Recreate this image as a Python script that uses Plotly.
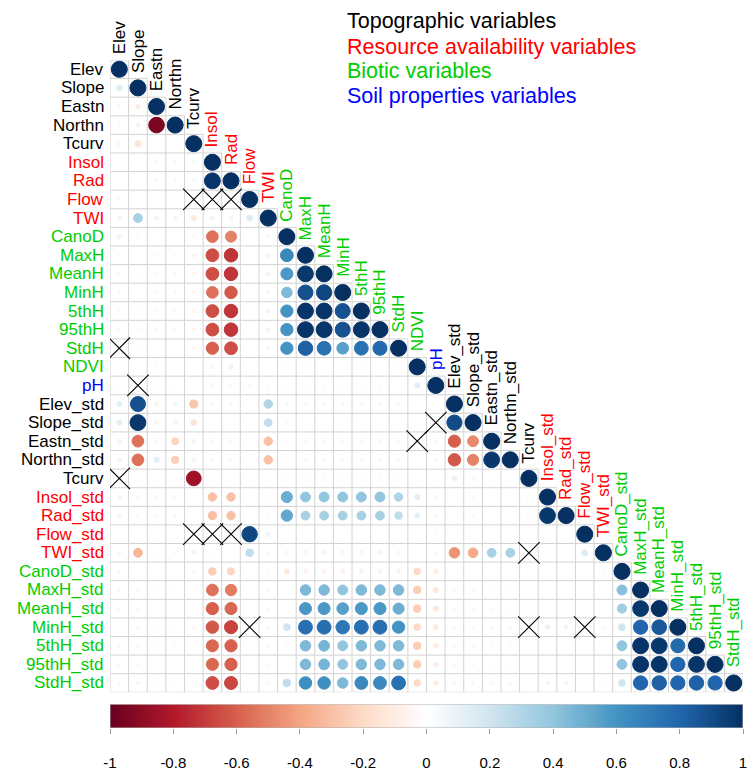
import numpy as np
import plotly.graph_objects as go

# ---- variables (rows / columns of the lower-triangular matrix) ----
variables = ["Elev", "Slope", "Eastn", "Northn", "Tcurv",
             "Insol", "Rad", "Flow", "TWI",
             "CanoD", "MaxH", "MeanH", "MinH", "5thH", "95thH", "StdH", "NDVI",
             "pH",
             "Elev_std", "Slope_std", "Eastn_std", "Northn_std", "Tcurv",
             "Insol_std", "Rad_std", "Flow_std", "TWI_std",
             "CanoD_std", "MaxH_std", "MeanH_std", "MinH_std", "5thH_std", "95thH_std", "StdH_std"]
groups = (["topo"] * 5 + ["res"] * 4 + ["bio"] * 8 + ["soil"]
          + ["topo"] * 5 + ["res"] * 4 + ["bio"] * 7)
group_colors = {"topo": "#000000", "res": "#FF0000", "bio": "#00CD00", "soil": "#0000FF"}

legend_labels = ["Topographic variables", "Resource availability variables",
                 "Biotic variables", "Soil properties variables"]
legend_groups = ["topo", "res", "bio", "soil"]

# ---- lower-triangle correlation coefficients, one list per row ----
r01 = [1.00]
r02 = [0.15, 1.00]
r03 = [-0.05, -0.10, 1.00]
r04 = [0.04, 0.08, -0.95, 1.00]
r05 = [-0.06, -0.15, -0.02, -0.02, 1.00]
r06 = [0.01, -0.02, 0.05, -0.05, 0.05, 1.00]
r07 = [0.01, -0.01, 0.05, -0.05, 0.05, 0.98, 1.00]
r08 = [-0.05, 0.02, -0.02, 0.01, 0.02, 0.02, 0.02, 1.00]
r09 = [0.07, 0.33, -0.07, 0.07, -0.12, -0.07, -0.07, 0.15, 1.00]
r10 = [0.08, 0.03, -0.01, 0.01, -0.04, -0.55, -0.50, 0.00, 0.05, 1.00]
r11 = [0.04, 0.03, -0.04, 0.04, -0.06, -0.65, -0.72, 0.00, 0.07, 0.65, 1.00]
r12 = [0.04, 0.03, -0.04, 0.04, -0.06, -0.65, -0.72, 0.00, 0.07, 0.58, 0.97, 1.00]
r13 = [0.04, 0.02, -0.04, 0.04, -0.05, -0.55, -0.62, 0.00, 0.06, 0.45, 0.88, 0.92, 1.00]
r14 = [0.04, 0.03, -0.04, 0.04, -0.06, -0.65, -0.72, 0.00, 0.07, 0.60, 0.98, 0.98, 0.88, 1.00]
r15 = [0.04, 0.03, -0.04, 0.04, -0.06, -0.65, -0.72, 0.00, 0.07, 0.60, 0.98, 0.98, 0.88, 0.98, 1.00]
r16 = [0.01, 0.03, -0.01, 0.02, -0.04, -0.60, -0.65, 0.00, 0.06, 0.60, 0.82, 0.75, 0.55, 0.75,
       0.78, 1.00]
r17 = [0.03, 0.01, 0.03, -0.03, 0.01, 0.06, 0.08, 0.01, 0.01, 0.03, -0.03, -0.03, -0.03, -0.03,
       -0.03, -0.03, 1.00]
r18 = [0.03, 0.00, 0.01, -0.03, -0.02, 0.04, 0.04, 0.03, -0.03, -0.03, -0.03, -0.03, -0.03, -0.03,
       -0.03, -0.02, 0.12, 1.00]
r19 = [0.12, 0.88, -0.07, 0.07, -0.28, -0.05, -0.05, 0.01, 0.30, 0.05, 0.05, 0.05, 0.05, 0.05,
       0.05, 0.05, 0.01, -0.02, 1.00]
r20 = [0.12, 0.97, -0.07, 0.07, -0.15, 0.01, 0.01, 0.01, 0.25, 0.03, 0.02, 0.02, 0.02, 0.02,
       0.02, 0.02, 0.01, 0.00, 0.90, 1.00]
r21 = [-0.08, -0.55, 0.05, -0.22, 0.07, 0.04, 0.04, 0.01, -0.30, 0.03, -0.04, -0.04, -0.05, -0.05,
       -0.05, -0.05, 0.00, 0.04, -0.60, -0.48, 1.00]
r22 = [-0.08, -0.55, 0.12, -0.24, 0.07, 0.04, 0.04, 0.01, -0.30, -0.03, -0.05, -0.05, -0.05, -0.05,
       -0.05, -0.05, 0.01, 0.04, -0.62, -0.50, 0.97, 1.00]
r23 = [0.00, 0.02, 0.01, 0.01, -0.85, 0.02, 0.02, 0.01, -0.02, -0.03, -0.03, -0.03, -0.03, -0.03,
       -0.03, -0.03, 0.01, 0.01, 0.10, 0.04, 0.01, 0.01, 1.00]
r24 = [0.07, -0.04, 0.04, -0.05, -0.02, -0.30, -0.30, -0.01, -0.03, 0.50, 0.40, 0.40, 0.40, 0.40,
       0.40, 0.30, 0.12, 0.05, 0.01, -0.04, 0.01, 0.01, -0.03, 1.00]
r25 = [0.07, -0.04, 0.04, -0.05, -0.02, -0.30, -0.30, -0.01, -0.03, 0.52, 0.33, 0.33, 0.33, 0.33,
       0.33, 0.25, 0.12, 0.05, 0.01, -0.04, 0.01, 0.01, -0.03, 0.97, 1.00]
r26 = [-0.03, 0.01, 0.01, 0.01, 0.00, 0.00, 0.00, 0.92, 0.07, 0.01, 0.01, 0.01, 0.01, 0.01,
       0.01, 0.01, 0.01, 0.03, 0.01, 0.01, 0.01, 0.01, 0.01, -0.02, -0.02, 1.00]
r27 = [-0.06, -0.33, 0.03, -0.04, 0.07, 0.03, 0.03, 0.25, -0.05, -0.06, -0.07, -0.07, -0.07, -0.07,
       -0.07, -0.06, 0.01, 0.04, -0.45, -0.38, 0.33, 0.33, 0.00, -0.02, -0.02, 0.15, 1.00]
r28 = [-0.05, 0.01, 0.01, 0.01, 0.04, -0.25, -0.22, -0.01, -0.03, -0.12, -0.08, -0.08, -0.08, -0.08,
       -0.08, -0.08, -0.20, -0.10, -0.02, 0.01, 0.02, 0.02, 0.02, 0.01, 0.02, 0.01, 0.03, 1.00]
r29 = [-0.05, 0.04, -0.03, 0.03, -0.03, -0.55, -0.52, 0.00, 0.05, 0.02, 0.45, 0.45, 0.40, 0.45,
       0.45, 0.45, -0.25, -0.12, 0.04, 0.04, -0.03, -0.03, 0.01, 0.01, -0.02, 0.01, -0.02, 0.42, 1.00]
r30 = [-0.05, 0.04, -0.03, 0.03, -0.03, -0.60, -0.58, 0.00, 0.05, 0.03, 0.58, 0.58, 0.55, 0.58,
       0.58, 0.50, -0.25, -0.12, 0.04, 0.04, -0.04, -0.04, 0.01, 0.01, -0.02, 0.01, -0.02, 0.35,
       0.97, 1.00]
r31 = [-0.03, 0.04, -0.03, 0.03, -0.05, -0.62, -0.68, 0.00, 0.05, 0.20, 0.76, 0.76, 0.72, 0.76,
       0.76, 0.60, -0.20, -0.12, 0.05, 0.04, -0.05, -0.05, 0.00, 0.10, 0.08, 0.00, -0.05, 0.20,
       0.80, 0.85, 1.00]
r32 = [-0.05, 0.04, -0.03, 0.03, -0.03, -0.58, -0.60, 0.00, 0.04, 0.03, 0.45, 0.47, 0.40, 0.45,
       0.45, 0.45, -0.25, -0.10, 0.04, 0.04, -0.04, -0.04, 0.01, 0.01, -0.02, 0.01, -0.02, 0.40,
       0.98, 0.97, 0.78, 1.00]
r33 = [-0.05, 0.04, -0.03, 0.03, -0.03, -0.58, -0.60, 0.00, 0.04, 0.03, 0.45, 0.47, 0.40, 0.45,
       0.45, 0.45, -0.25, -0.10, 0.04, 0.04, -0.04, -0.04, 0.01, 0.01, -0.02, 0.01, -0.02, 0.40,
       0.98, 0.98, 0.80, 0.98, 1.00]
r34 = [-0.05, 0.06, -0.03, 0.03, -0.03, -0.65, -0.67, 0.00, 0.05, 0.25, 0.62, 0.62, 0.45, 0.65,
       0.65, 0.75, -0.20, -0.10, 0.05, 0.05, -0.05, -0.05, 0.01, 0.06, 0.06, 0.01, -0.03, 0.20,
       0.80, 0.82, 0.80, 0.82, 0.80, 1.00]

corr_rows = [r01, r02, r03, r04, r05, r06, r07, r08, r09, r10, r11, r12, r13, r14, r15, r16, r17,
             r18, r19, r20, r21, r22, r23, r24, r25, r26, r27, r28, r29, r30, r31, r32, r33, r34]

# non-significant pairs (row, column), 1-based
insignificant = [(8, 5), (8, 6), (8, 7), (16, 1), (18, 2), (23, 1),
                 (26, 5), (26, 6), (26, 7), (31, 8), (20, 18), (21, 17),
                 (27, 23), (31, 23), (31, 26)]

colorbar_ticks = [-1, -0.8, -0.6, -0.4, -0.2, 0, 0.2, 0.4, 0.6, 0.8, 1]
colorbar_ticktext = ["-1", "-0.8", "-0.6", "-0.4", "-0.2", "0", "0.2", "0.4", "0.6", "0.8", "1"]

# ---- styling ----
FONT = "Liberation Sans, Arial, Helvetica, sans-serif"
LABEL_SIZE = 17
rdbu = ["#67001F", "#B2182B", "#D6604D", "#F4A582", "#FDDBC7", "#FFFFFF",
        "#D1E5F0", "#92C5DE", "#4393C3", "#2166AC", "#053061"]
colorscale = [[i / 10, c] for i, c in enumerate(rdbu)]

W, H = 747, 771
M_L, M_R, M_T, M_B = 110, 0, 60, 38
n = len(variables)
plot_h = H - M_T - M_B
cell_px = (W - M_L - M_R) / n
grid_bottom_px = M_T + n * cell_px
main_dom_lo = (H - M_B - grid_bottom_px) / plot_h
cb_top_px, cb_bot_px = 709, 733
cb_dom_hi = (H - M_B - cb_top_px) / plot_h

# ---- assemble circle data ----
xs, ys, vals = [], [], []
for i, row in enumerate(corr_rows, start=1):
    for j, v in enumerate(row, start=1):
        xs.append(j)
        ys.append(i)
        vals.append(v)
vals = np.array(vals)
# circle area proportional to |r|; a 1px rim of the same colour is drawn around each
sizes = np.maximum(0.9 * cell_px * np.sqrt(np.abs(vals)) - 0.8, 0.5)

# ---- grid lines around lower-triangle cells ----
gx, gy = [], []
for k in range(n + 1):
    y = k + 0.5
    right = min(k + 1, n) + 0.5
    gx += [0.5, right, None]
    gy += [y, y, None]
for j in range(1, n + 2):
    x = j - 0.5
    top = max(j - 1, 1) - 0.5
    gx += [x, x, None]
    gy += [top, n + 0.5, None]

fig = go.Figure()
fig.add_trace(go.Scatter(x=gx, y=gy, mode="lines", line=dict(color="#D3D3D3", width=1),
                         hoverinfo="skip", showlegend=False))
fig.add_trace(go.Scatter(
    x=xs, y=ys, mode="markers",
    marker=dict(size=sizes, color=vals, colorscale=colorscale, cmin=-1, cmax=1,
                line=dict(width=1, color=vals, colorscale=colorscale, cmin=-1, cmax=1),
                opacity=1),
    hovertemplate="r = %{marker.color:.2f}<extra></extra>", showlegend=False))
fig.add_trace(go.Scatter(
    x=[c for r, c in insignificant], y=[r for r, c in insignificant], mode="markers",
    marker=dict(symbol="x-thin", size=21.5, line=dict(color="#000000", width=1.1)),
    hoverinfo="skip", showlegend=False))

# colour key
cb_x = np.linspace(-1, 1, 401)
fig.add_trace(go.Heatmap(x=cb_x, y=[0.5], z=[cb_x], colorscale=colorscale, zmin=-1, zmax=1,
                         showscale=False, hoverinfo="skip", xaxis="x2", yaxis="y2"))

annotations = []
for i, name in enumerate(variables, start=1):
    col = group_colors[groups[i - 1]]
    annotations.append(dict(x=0.5, y=i, xref="x", yref="y", text=name, showarrow=False,
                            xanchor="right", yanchor="middle", xshift=-4,
                            font=dict(family=FONT, size=LABEL_SIZE, color=col)))
    annotations.append(dict(x=i, y=i - 0.5, xref="x", yref="y", text=name, showarrow=False,
                            textangle=-90, xanchor="center", yanchor="bottom", yshift=4,
                            font=dict(family=FONT, size=LABEL_SIZE, color=col)))

legend_y_px = [21, 46.5, 71.5, 96.5]
for lbl, g, py in zip(legend_labels, legend_groups, legend_y_px):
    annotations.append(dict(x=(346 - M_L) / (W - M_L - M_R), y=(H - M_B - py) / plot_h,
                            xref="paper", yref="paper", text=lbl, showarrow=False,
                            xanchor="left", yanchor="middle",
                            font=dict(family=FONT, size=21.5, color=group_colors[g])))

fig.update_layout(
    width=W, height=H,
    margin=dict(l=M_L, r=M_R, t=M_T, b=M_B, pad=0),
    paper_bgcolor="white", plot_bgcolor="white",
    xaxis=dict(domain=[0, 1], range=[0.5, n + 0.5], visible=False, fixedrange=True),
    yaxis=dict(domain=[main_dom_lo, 1], range=[n + 0.5, 0.5], visible=False, fixedrange=True),
    xaxis2=dict(domain=[0, 1], range=[-1, 1], anchor="y2", tickvals=colorbar_ticks,
                ticktext=colorbar_ticktext, ticks="outside", ticklen=5, tickcolor="#9a9a9a",
                tickfont=dict(family=FONT, size=15, color="#000000"), showgrid=False,
                zeroline=False, showline=False, ticklabelstandoff=16,
                ticklabeloverflow="allow"),
    yaxis2=dict(domain=[0, cb_dom_hi], range=[0, 1], visible=False, fixedrange=True),
    annotations=annotations,
    shapes=[dict(type="rect", xref="x2", yref="y2", x0=-1, x1=1, y0=0, y1=1,
                 line=dict(color="#b0b0b0", width=1))],
    showlegend=False,
)

fig.write_html("out.html")
